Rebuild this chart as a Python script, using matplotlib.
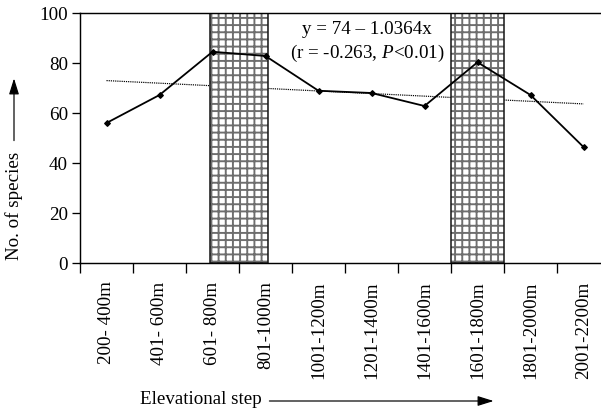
import numpy as np
import matplotlib
matplotlib.use("Agg")
import matplotlib.pyplot as plt
from matplotlib.patches import Rectangle, FancyArrowPatch

categories = ["200- 400m", "401- 600m", "601- 800m", "801-1000m", "1001-1200m",
              "1201-1400m", "1401-1600m", "1601-1800m", "1801-2000m", "2001-2200m"]
species = [56, 67.2, 84.5, 82.8, 68.9, 68.0, 62.8, 80.3, 67.2, 46.4]
intercept = 74.0
slope = -1.0364
hatched_spans = [(1.95, 3.05), (6.5, 7.5)]
yticks = [0, 20, 40, 60, 80, 100]

DPI = 86.4
W, H = 601, 410
plt.rcParams['font.family'] = ['Liberation Serif', 'DejaVu Serif']
plt.rcParams['mathtext.fontset'] = 'custom'
plt.rcParams['mathtext.rm'] = 'Liberation Serif'
plt.rcParams['mathtext.it'] = 'Liberation Serif:italic'
plt.rcParams['hatch.linewidth'] = 1.6
FS = 15.8

fig = plt.figure(figsize=(W / DPI, H / DPI), dpi=DPI)
ax = fig.add_axes([80 / W, (H - 263) / H, 530 / W, 250 / H])

x = np.arange(len(categories))
# trend line from the stated regression equation (x = 1..10)
xt = np.array([x[0], x[-1]])
ax.plot(xt, intercept + slope * (xt + 1), linestyle=(0, (1, 0.8)), color='black', lw=1.0, zorder=1)

for a, b in hatched_spans:
    ax.add_patch(Rectangle((a, 0), b - a, 100, facecolor='white', edgecolor='#6e6e6e',
                           hatch='++', lw=0, zorder=2))
    ax.add_patch(Rectangle((a, 0), b - a, 100, facecolor='none', edgecolor='#1a1a1a',
                           lw=1.3, zorder=2.5))

ax.plot(x, species, color='black', lw=1.5, marker='D', markersize=3.4, zorder=3)

ax.set_xlim(-0.5, 9.5)
ax.set_ylim(0, 100)
ax.set_yticks(yticks)
ax.set_xticks(np.arange(-0.5, 10, 1.0))
ax.set_xticklabels([])
ax.set_xticks(x, minor=True)
ax.set_xticklabels(categories, minor=True, rotation=90, fontsize=FS, va='top', ha='center')
ax.tick_params(axis='x', which='major', direction='out', length=8.3, width=1.1)
ax.tick_params(axis='x', which='minor', length=0, pad=15.5)
ax.tick_params(axis='y', direction='out', length=6.7, width=1.1, labelsize=FS, pad=3.5)
for s in ['left', 'bottom', 'top']:
    ax.spines[s].set_linewidth(1.2)
ax.spines['right'].set_visible(False)

fig.text(367 / W, 1 - 30 / H, "y = 74 \u2013 1.0364x", ha='center', va='center', fontsize=FS)
fig.text(367 / W, 1 - 53 / H, "(r = -0.263, $P$<0.01)", ha='center', va='center', fontsize=FS)

# axis labels with arrows
fig.text(14 / W, 1 - 206 / H, "No. of species", rotation=90, ha='center', va='center', fontsize=FS)
fig.add_artist(FancyArrowPatch((14 / W, 1 - 143 / H), (14 / W, 1 - 76 / H),
               transform=fig.transFigure, arrowstyle='-|>,head_length=0.8,head_width=0.25',
               mutation_scale=14, lw=1.0, color='black'))
fig.text(140 / W, 1 - 399 / H, "Elevational step", ha='left', va='center', fontsize=FS)
fig.add_artist(FancyArrowPatch((267 / W, 1 - 401 / H), (496 / W, 1 - 401 / H),
               transform=fig.transFigure, arrowstyle='-|>,head_length=0.8,head_width=0.25',
               mutation_scale=14, lw=1.0, color='black'))

fig.savefig("out.png", dpi=DPI)
